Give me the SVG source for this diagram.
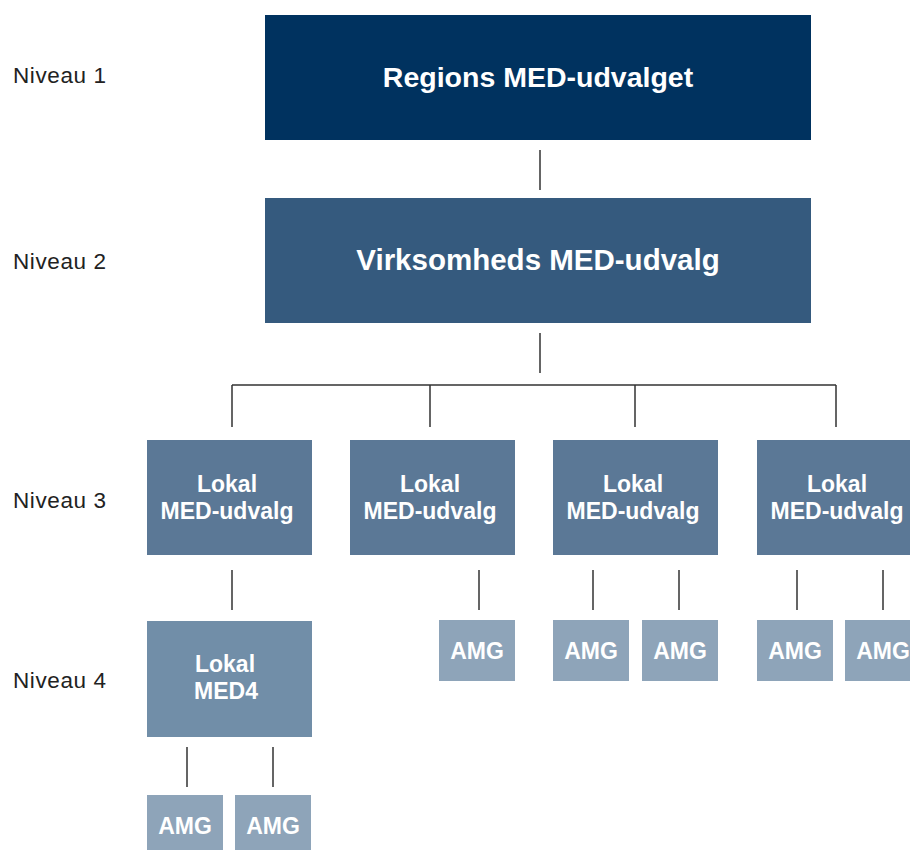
<svg xmlns="http://www.w3.org/2000/svg" width="910" height="850" viewBox="0 0 910 850">
<style>
.lvl{font-family:"Liberation Sans",Arial,sans-serif;font-size:22.5px;fill:#222;letter-spacing:0.6px}
.t{font-family:"Liberation Sans",Arial,sans-serif;font-weight:bold;fill:#fff;text-anchor:middle}
.big{font-size:28.5px}
.big2{font-size:29.5px}
.mid{font-size:23px}
.c1{fill:#00325f}
.c2{fill:#355a7e}
.c3{fill:#5b7896}
.c4{fill:#718ea8}
.c5{fill:#8ea4b9}
.ln{stroke:#333;stroke-width:1.5;fill:none}
</style>
<rect width="910" height="850" fill="#fff"/>
<g id="labels">
<text class="lvl" x="13" y="83">Niveau 1</text>
<text class="lvl" x="13" y="269">Niveau 2</text>
<text class="lvl" x="13" y="508">Niveau 3</text>
<text class="lvl" x="13" y="688">Niveau 4</text>
</g>
<g id="connectors">
<path class="ln" d="M540 150V190M540 333V373M232 385H836M232 385V427M430 385V427M635 385V427M836 385V427"/>
<path class="ln" d="M232 570V610M479 570V610M593 570V610M679 570V610M797 570V610M883 570V610M187 747V787M273 747V787"/>
</g>
<g id="n1"><rect class="c1" x="265" y="15" width="546" height="125"/><text class="t big" x="538" y="87">Regions MED-udvalget</text></g>
<g id="n2"><rect class="c2" x="265" y="198" width="546" height="125"/><text class="t big2" x="538" y="270">Virksomheds MED-udvalg</text></g>
<g id="l3a"><rect class="c3" x="147" y="440" width="165" height="115"/><text class="t mid" x="227" y="492">Lokal</text><text class="t mid" x="227" y="519">MED-udvalg</text></g>
<g id="l3b"><rect class="c3" x="350" y="440" width="165" height="115"/><text class="t mid" x="430" y="492">Lokal</text><text class="t mid" x="430" y="519">MED-udvalg</text></g>
<g id="l3c"><rect class="c3" x="553" y="440" width="165" height="115"/><text class="t mid" x="633" y="492">Lokal</text><text class="t mid" x="633" y="519">MED-udvalg</text></g>
<g id="l3d"><rect class="c3" x="757" y="440" width="165" height="115"/><text class="t mid" x="837" y="492">Lokal</text><text class="t mid" x="837" y="519">MED-udvalg</text></g>
<g id="med4"><rect class="c4" x="147" y="621" width="165" height="116"/><text class="t mid" x="225" y="672">Lokal</text><text class="t mid" x="226" y="699">MED4</text></g>
<g id="amg1"><rect class="c5" x="439" y="620" width="76" height="61"/><text class="t mid" x="477" y="659">AMG</text></g>
<g id="amg2"><rect class="c5" x="553" y="620" width="76" height="61"/><text class="t mid" x="591" y="659">AMG</text></g>
<g id="amg3"><rect class="c5" x="642" y="620" width="76" height="61"/><text class="t mid" x="680" y="659">AMG</text></g>
<g id="amg4"><rect class="c5" x="757" y="620" width="76" height="61"/><text class="t mid" x="795" y="659">AMG</text></g>
<g id="amg5"><rect class="c5" x="845" y="620" width="76" height="61"/><text class="t mid" x="883" y="659">AMG</text></g>
<g id="amg6"><rect class="c5" x="147" y="795" width="76" height="61"/><text class="t mid" x="185" y="834">AMG</text></g>
<g id="amg7"><rect class="c5" x="235" y="795" width="76" height="61"/><text class="t mid" x="273" y="834">AMG</text></g>
</svg>
